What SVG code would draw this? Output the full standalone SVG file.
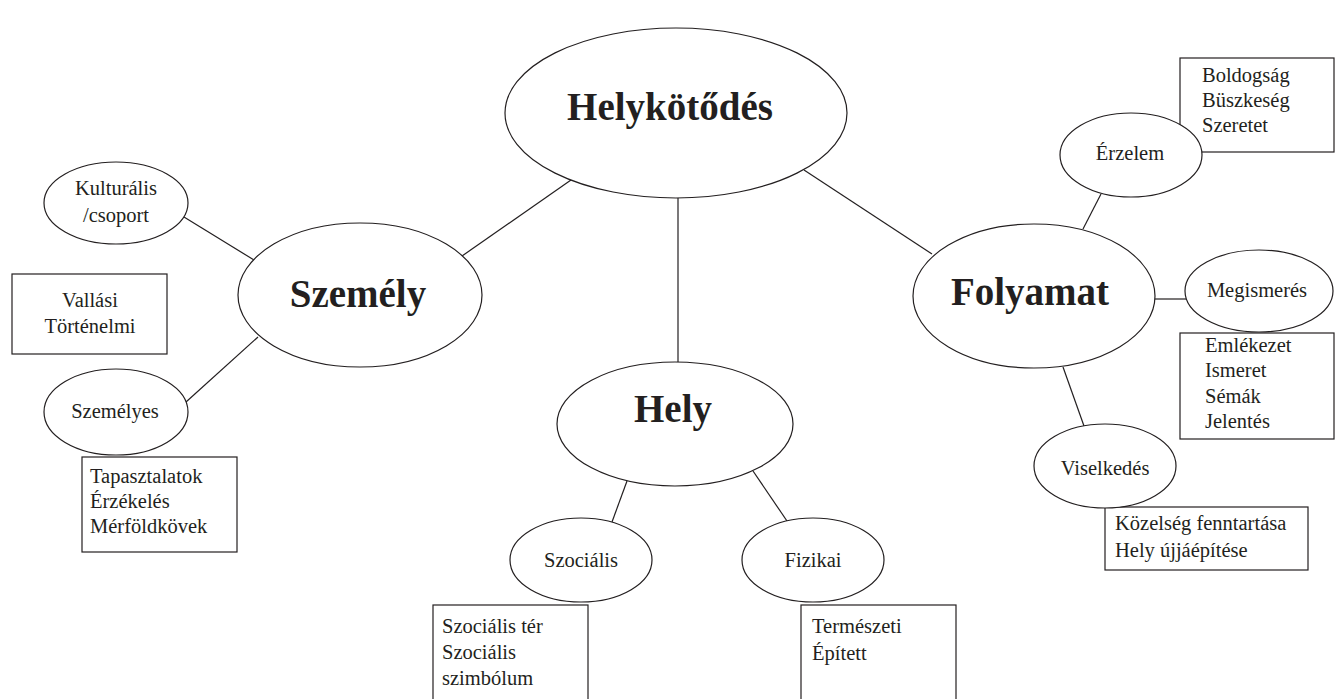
<svg xmlns="http://www.w3.org/2000/svg" width="1335" height="699" viewBox="0 0 1335 699">
  <style>
    .shape { fill: #ffffff; stroke: #231f20; stroke-width: 1.2; }
    .link { stroke: #231f20; stroke-width: 1.2; fill: none; }
    text { font-family: "Liberation Serif", "Times New Roman", serif; fill: #231f20; }
    .big { font-size: 39px; font-weight: bold; text-anchor: middle; }
    .lbl { font-size: 20.5px; text-anchor: middle; }
    .item { font-size: 20.5px; }
  </style>
  <rect width="1335" height="699" fill="#ffffff"/>

  <!-- connectors -->
  <g id="connectors">
    <line class="link" x1="462" y1="256" x2="571" y2="180"/>
    <line class="link" x1="678" y1="197" x2="678" y2="362"/>
    <line class="link" x1="804" y1="170" x2="932" y2="254"/>
    <line class="link" x1="184" y1="217" x2="254" y2="260"/>
    <line class="link" x1="186" y1="402" x2="258" y2="337"/>
    <line class="link" x1="627" y1="481" x2="612" y2="522"/>
    <line class="link" x1="753" y1="471" x2="787" y2="521"/>
    <line class="link" x1="1101" y1="194" x2="1083" y2="229"/>
    <line class="link" x1="1155" y1="299" x2="1186" y2="299"/>
    <line class="link" x1="1063" y1="367" x2="1084" y2="426"/>
  </g>

  <!-- central concept -->
  <g id="helykotodes">
    <ellipse class="shape" cx="676" cy="113" rx="171" ry="85"/>
    <text class="big" x="670" y="120">Helykötődés</text>
  </g>

  <!-- person branch -->
  <g id="szemely">
    <ellipse class="shape" cx="360" cy="295" rx="122" ry="72"/>
    <text class="big" x="358" y="307">Személy</text>
  </g>
  <g id="kulturalis">
    <ellipse class="shape" cx="116" cy="203" rx="72" ry="41"/>
    <text class="lbl" x="116" y="195">Kulturális</text>
    <text class="lbl" x="116" y="222">/csoport</text>
  </g>
  <g id="vallasi-box">
    <rect class="shape" x="12" y="274" width="155" height="80"/>
    <text class="lbl" x="90" y="307">Vallási</text>
    <text class="lbl" x="90" y="333">Történelmi</text>
  </g>
  <g id="tapasztalatok-box">
    <rect class="shape" x="82" y="457" width="155" height="95"/>
    <text class="item" x="90" y="483">Tapasztalatok</text>
    <text class="item" x="90" y="508">Érzékelés</text>
    <text class="item" x="90" y="533">Mérföldkövek</text>
  </g>
  <g id="szemelyes">
    <ellipse class="shape" cx="116" cy="412" rx="72" ry="43"/>
    <text class="lbl" x="115" y="418">Személyes</text>
  </g>

  <!-- place branch -->
  <g id="hely">
    <ellipse class="shape" cx="675" cy="424" rx="118" ry="62"/>
    <text class="big" x="673" y="422">Hely</text>
  </g>
  <g id="szocialis-box">
    <rect class="shape" x="433" y="605" width="155" height="100"/>
    <text class="item" x="442" y="633">Szociális tér</text>
    <text class="item" x="442" y="659">Szociális</text>
    <text class="item" x="442" y="685">szimbólum</text>
  </g>
  <g id="termeszeti-box">
    <rect class="shape" x="801" y="605" width="155" height="100"/>
    <text class="item" x="812" y="633">Természeti</text>
    <text class="item" x="812" y="660">Épített</text>
  </g>
  <g id="szocialis">
    <ellipse class="shape" cx="581" cy="560" rx="71" ry="42"/>
    <text class="lbl" x="581" y="567">Szociális</text>
  </g>
  <g id="fizikai">
    <ellipse class="shape" cx="813" cy="560" rx="71" ry="42"/>
    <text class="lbl" x="813" y="567">Fizikai</text>
  </g>

  <!-- process branch -->
  <g id="folyamat">
    <ellipse class="shape" cx="1034" cy="296" rx="121" ry="72"/>
    <text class="big" x="1030" y="305">Folyamat</text>
  </g>
  <g id="boldogsag-box">
    <rect class="shape" x="1180" y="58" width="154" height="94"/>
    <text class="item" x="1202" y="82">Boldogság</text>
    <text class="item" x="1202" y="107">Büszkeség</text>
    <text class="item" x="1202" y="132">Szeretet</text>
  </g>
  <g id="erzelem">
    <ellipse class="shape" cx="1131" cy="155" rx="71" ry="42"/>
    <text class="lbl" x="1130" y="160">Érzelem</text>
  </g>
  <g id="emlekezet-box">
    <rect class="shape" x="1180" y="333" width="154" height="106"/>
    <text class="item" x="1205" y="352">Emlékezet</text>
    <text class="item" x="1205" y="377">Ismeret</text>
    <text class="item" x="1205" y="403">Sémák</text>
    <text class="item" x="1205" y="428">Jelentés</text>
  </g>
  <g id="megismeres">
    <ellipse class="shape" cx="1259" cy="291" rx="74" ry="41"/>
    <text class="lbl" x="1257" y="297">Megismerés</text>
  </g>
  <g id="kozelseg-box">
    <rect class="shape" x="1105" y="507" width="203" height="63"/>
    <text class="item" x="1115" y="530">Közelség fenntartása</text>
    <text class="item" x="1115" y="557">Hely újjáépítése</text>
  </g>
  <g id="viselkedes">
    <ellipse class="shape" cx="1105" cy="466" rx="71" ry="42"/>
    <text class="lbl" x="1105" y="475">Viselkedés</text>
  </g>
</svg>
